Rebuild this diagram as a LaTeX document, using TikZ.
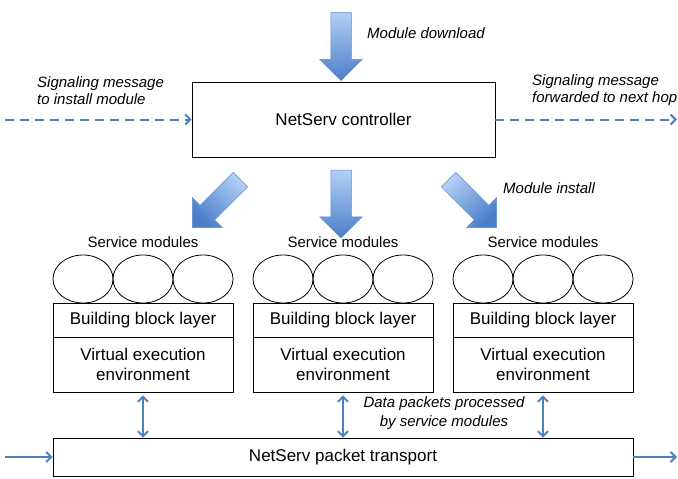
\documentclass[tikz,border=0pt]{standalone}
\usepackage{fontspec}
\setmainfont{Liberation Sans}
\usetikzlibrary{shapes.geometric,shapes.arrows,arrows.meta}

\definecolor{lineblue}{HTML}{4F81BD}
\definecolor{arrowlight}{HTML}{B2CFF6}
\definecolor{arrowdark}{HTML}{4A7EC8}

\tikzset{
  box/.style={draw, line width=0.8pt, inner sep=0pt, font=\fontsize{17}{20}\selectfont},
  layerbox/.style={box, minimum width=180},
  module/.style={draw, ellipse, line width=0.8pt, minimum width=60, minimum height=48, inner sep=0pt},
  note/.style={font=\fontsize{15}{17}\selectfont\itshape, inner sep=0pt},
  heading/.style={font=\fontsize{15}{17}\selectfont, inner sep=0pt},
  bigarrow/.style={single arrow, draw=arrowdark!90, line width=0.5pt, minimum width=42pt,
    text height=10pt, text depth=10pt, single arrow head extend=11pt, minimum height=68pt,
    inner sep=0pt, top color=arrowlight, bottom color=arrowdark},
  signal/.style={lineblue, line width=2pt, dash pattern=on 9pt off 6pt, -{Straight Barb[length=5pt,width=10pt]}},
  packet/.style={lineblue, line width=2pt, -{Straight Barb[length=5pt,width=10pt]}},
  dataarrow/.style={lineblue, line width=2pt, {Straight Barb[length=5pt,width=10pt]}-{Straight Barb[length=5pt,width=10pt]}}
}

\begin{document}
\begin{tikzpicture}[x=1pt, y=-1pt]
\useasboundingbox (0,0) rectangle (678,479);

% controller and download
\node[box, minimum width=303, minimum height=75] (ctrl) at (343.5,119.5) {NetServ controller};
\node[bigarrow, rotate=-90] (download) at (341,41.5) {};
\node[note, anchor=west] (downloadlbl) at (367,33) {Module download};

% signaling
\node[note, anchor=west, align=left] (siginlbl) at (37,90.5) {Signaling message\\to install module};
\node[note, anchor=west, align=left] (sigoutlbl) at (532,90.5) {Signaling message\\forwarded to next hop};
\coordinate (sigin) at (5,119.5);
\coordinate (sigout) at (677,119.5);
\draw[signal] (sigin) -- (ctrl.west);
\draw[signal] (ctrl.east) -- (sigout);

% install arrows
\node[bigarrow, rotate=225, shading angle=-45] (inst1) at (220,200) {};
\node[bigarrow, rotate=-90] (inst2) at (341,199) {};
\node[bigarrow, rotate=-45, shading angle=45] (inst3) at (469,200) {};
\node[note, anchor=west] (instlbl) at (503,188) {Module install};

% packet transport
\node[box, minimum width=580, minimum height=38] (tr) at (343,457) {NetServ packet transport};
\coordinate (pktin) at (5,457);
\coordinate (pktout) at (677,457);
\draw[packet] (pktin) -- (tr.west);
\draw[packet] (tr.east) -- (pktout);

% the three nodes
\foreach \i/\x in {1/53,2/253,3/453} {
  \node[heading] (sm\i) at (\x+90,242) {Service modules};
  \node[module] (m\i a) at (\x+30,279) {};
  \node[module] (m\i b) at (\x+90,279) {};
  \node[module] (m\i c) at (\x+150,279) {};
  \node[layerbox, minimum height=34] (bb\i) at (\x+90,320) {Building block layer};
  \node[layerbox, minimum height=55, align=center] (vee\i) at (\x+90,364.5) {Virtual execution\\environment};
  \draw[dataarrow, shorten <=3pt] (vee\i.south) -- (vee\i.south |- tr.north);
}
\node[note, font=\fontsize{15}{19}\selectfont\itshape, align=center] (datalbl) at (444,413) {Data packets processed\\by service modules};
\end{tikzpicture}
\end{document}
